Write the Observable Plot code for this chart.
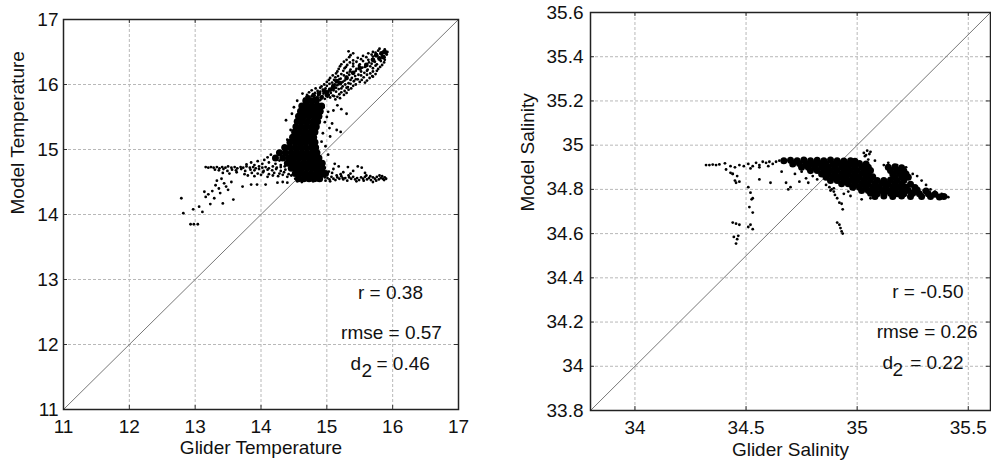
<!DOCTYPE html>
<html>
<head>
<meta charset="utf-8">
<script src="https://cdn.jsdelivr.net/npm/d3@7"></script>
<script src="https://cdn.jsdelivr.net/npm/@observablehq/plot@0.6"></script>
<style>
  html, body { margin: 0; padding: 0; background: #fff; }
  #wrap { position: relative; width: 991px; height: 461px; overflow: hidden; }
  #left { position: absolute; left: 0; top: 0; }
  #right { position: absolute; left: 495px; top: 0; }
</style>
</head>
<body>
<div id="wrap"><div id="left"></div><div id="right"></div></div>
<script>
// ---------- Temperature panel ----------
const tempDomain = [11, 17];
const tempTicks = [11, 12, 13, 14, 15, 16, 17];
const tempStats = ["r = 0.38", "rmse = 0.57", "d", "2", "= 0.46"];

const tempTail = [[12.79,14.25],[12.82,14.02],[12.93,13.85],[12.98,13.85],[13.04,13.85],[12.97,14.08],[13.06,14.12],[13.11,14.04],[13.14,14.35],[13.16,14.27],[13.23,14.16],[13.29,14.25],[13.42,14.17],[13.58,14.23],[13.31,14.45],[13.36,14.40],[13.44,14.48],[13.50,14.38],[13.72,14.43],[13.85,14.46],[13.94,14.46],[14.07,14.46],[14.25,14.49],[14.33,14.50],[14.40,14.49],[13.20,14.31],[13.26,14.36],[13.38,14.33],[13.47,14.43],[13.33,14.52],[13.40,14.55],[13.55,14.50]];

const tempBandUpper = [[13.16,14.73],[13.20,14.72],[13.24,14.73],[13.28,14.72],[13.33,14.73],[13.37,14.71],[13.41,14.73],[13.46,14.72],[13.50,14.74],[13.55,14.72],[13.60,14.73],[13.64,14.71],[13.69,14.73],[13.73,14.72],[13.78,14.74],[13.83,14.72],[13.88,14.73],[13.92,14.71],[13.97,14.74],[14.02,14.72],[14.07,14.73],[14.12,14.71],[14.18,14.74],[14.24,14.72],[14.30,14.73],
[13.30,14.69],[13.36,14.68],[13.43,14.70],[13.49,14.67],[13.56,14.69],[13.62,14.68],[13.70,14.70],[13.76,14.67],[13.84,14.69],[13.90,14.68],[13.97,14.70],[14.04,14.67],[14.10,14.69],[14.17,14.68],[14.23,14.70],[14.30,14.67],[14.37,14.69],
[13.42,14.64],[13.52,14.63],[13.63,14.65],[13.75,14.62],[13.86,14.64],[13.95,14.63],[14.03,14.65],[14.12,14.62],[14.20,14.64],[14.28,14.63],[14.35,14.65],[14.42,14.62],
[13.80,14.60],[13.90,14.59],[14.00,14.61],[14.10,14.58],[14.18,14.60],[14.26,14.59],[14.33,14.61],[14.40,14.58],[14.46,14.60],
[13.85,14.80],[13.95,14.82],[14.05,14.84],[14.12,14.80],[14.20,14.86],[14.28,14.83],[14.22,14.78],[14.02,14.78],[13.78,14.77],[13.90,14.76],[14.15,14.92],[14.10,14.88],[14.30,14.76],[14.36,14.74]];

const tempBandLower = [[14.52,14.55],[14.56,14.58],[14.60,14.53],[14.63,14.57],[14.67,14.55],[14.70,14.59],[14.73,14.52],[14.77,14.56],[14.80,14.54],[14.83,14.58],[14.86,14.53],[14.89,14.57],[14.92,14.55],[14.95,14.59],[14.98,14.52],[15.01,14.56],[15.04,14.54],[15.07,14.58],[15.10,14.55],[15.13,14.53],[15.16,14.57],[15.19,14.55],[15.22,14.59],[15.25,14.54],[15.28,14.56],[15.31,14.52],[15.34,14.57],[15.37,14.55],[15.40,14.58],[15.43,14.54],[15.46,14.56],[15.49,14.53],[15.52,14.57],[15.55,14.55],[15.58,14.58],[15.61,14.54],[15.64,14.56],[15.67,14.53],[15.70,14.57],[15.73,14.55],[15.76,14.58],[15.79,14.54],[15.82,14.56],[15.85,14.55],[15.88,14.57],[15.90,14.55],
[14.55,14.51],[14.62,14.50],[14.71,14.56],[14.79,14.51],[14.88,14.55],[14.97,14.57],[15.05,14.51],[15.15,14.60],[15.24,14.56],[15.33,14.60],[15.45,14.51],[15.56,14.52],[15.66,14.59],[15.75,14.52],[15.84,14.59],[15.87,14.53],[15.80,14.60],[15.70,14.50],[15.60,14.60],
[14.90,14.68],[14.97,14.72],[15.03,14.66],[15.10,14.70],[15.18,14.74],[15.25,14.65],[15.32,14.73],[15.40,14.67],[15.47,14.74],[15.53,14.72],[14.95,14.63],[15.08,14.64],[15.21,14.62],[15.36,14.63],[15.12,14.78],[14.85,14.75],[15.58,14.64]];

const tempArm = [[14.66,15.78],[14.74,15.77],[14.81,15.79],[14.90,15.76],[14.97,15.78],[15.05,15.80],[15.13,15.77],[15.20,15.79],
[14.69,15.81],[14.77,15.82],[14.85,15.80],[14.93,15.82],[15.01,15.81],[15.09,15.83],[15.16,15.81],
[14.70,15.84],[14.79,15.85],[14.87,15.83],[14.95,15.86],[15.03,15.84],[15.11,15.82],[15.19,15.85],[15.26,15.84],
[14.73,15.88],[14.82,15.87],[14.90,15.89],[14.98,15.88],[15.06,15.87],[15.14,15.89],[15.22,15.88],[15.30,15.87],
[14.77,15.91],[14.86,15.90],[14.94,15.92],[15.02,15.89],[15.10,15.91],[15.18,15.93],[15.27,15.90],[15.33,15.92],
[14.83,15.94],[14.90,15.95],[14.98,15.94],[15.06,15.93],[15.14,15.95],[15.22,15.94],[15.30,15.95],[15.37,15.94],
[14.92,15.97],[15.00,15.98],[15.08,15.96],[15.16,15.99],[15.24,15.97],[15.32,15.96],[15.40,15.98],
[14.96,16.00],[15.04,16.01],[15.12,16.00],[15.20,16.01],[15.28,16.00],[15.36,16.01],[15.44,16.00],
[15.00,16.04],[15.08,16.03],[15.16,16.05],[15.24,16.04],[15.33,16.02],[15.41,16.05],[15.50,16.04],[15.58,16.03],
[15.03,16.07],[15.11,16.07],[15.19,16.08],[15.27,16.06],[15.36,16.07],[15.44,16.08],[15.53,16.07],[15.61,16.06],
[15.05,16.10],[15.13,16.11],[15.21,16.09],[15.30,16.12],[15.38,16.10],[15.47,16.08],[15.56,16.11],[15.65,16.10],[15.70,16.12],
[15.09,16.14],[15.17,16.13],[15.26,16.14],[15.34,16.15],[15.43,16.13],[15.52,16.14],[15.61,16.15],[15.69,16.13],
[15.14,16.17],[15.22,16.16],[15.31,16.18],[15.40,16.17],[15.48,16.15],[15.57,16.18],[15.66,16.17],[15.74,16.16],
[15.16,16.20],[15.25,16.21],[15.35,16.20],[15.44,16.21],[15.52,16.20],[15.61,16.21],[15.70,16.20],[15.76,16.21],
[15.18,16.24],[15.27,16.25],[15.36,16.23],[15.45,16.24],[15.54,16.26],[15.62,16.23],[15.70,16.25],[15.78,16.24],
[15.20,16.28],[15.29,16.27],[15.40,16.28],[15.49,16.29],[15.58,16.27],[15.66,16.28],[15.74,16.29],[15.81,16.27],
[15.22,16.31],[15.31,16.30],[15.40,16.32],[15.50,16.31],[15.59,16.29],[15.68,16.32],[15.76,16.31],[15.84,16.30],
[15.26,16.35],[15.35,16.34],[15.45,16.35],[15.55,16.36],[15.64,16.34],[15.73,16.35],[15.82,16.36],[15.87,16.34],
[15.30,16.38],[15.40,16.37],[15.52,16.39],[15.63,16.38],[15.71,16.36],[15.80,16.39],[15.88,16.38],
[15.34,16.42],[15.47,16.41],[15.60,16.42],[15.70,16.43],[15.79,16.41],[15.87,16.42],
[15.36,16.45],[15.55,16.44],[15.68,16.46],[15.76,16.45],[15.84,16.44],[15.91,16.46],
[15.40,16.48],[15.63,16.48],[15.74,16.49],[15.82,16.47],[15.90,16.48],
[15.33,16.51],[15.70,16.50],[15.78,16.52],[15.86,16.51],[15.92,16.50],[15.80,16.55],[15.88,16.54],
[15.00,15.50],[15.08,15.40],[15.15,15.30],[15.21,15.27],[15.05,15.20],[15.30,15.55],[15.22,15.62],[14.98,15.05],[15.02,14.92],[14.63,15.86],[14.45,15.30],[14.40,15.15],[14.38,15.45],
[14.95,15.65],[15.02,15.58],[14.97,15.42],[15.04,15.33],[14.94,15.25],[15.10,15.60],[15.16,15.68],[14.92,15.12],[14.47,15.55],[14.50,15.65],[14.55,15.75]];

const tempCore = [[14.68,15.75],[14.76,15.75],[14.84,15.75],
[14.62,15.67],[14.70,15.67],[14.78,15.67],[14.86,15.67],[14.92,15.67],
[14.60,15.59],[14.67,15.59],[14.75,15.59],[14.83,15.59],[14.90,15.59],
[14.57,15.51],[14.65,15.51],[14.73,15.51],[14.81,15.51],[14.88,15.51],
[14.55,15.43],[14.63,15.43],[14.71,15.43],[14.79,15.43],[14.86,15.43],
[14.53,15.35],[14.61,15.35],[14.69,15.35],[14.77,15.35],[14.84,15.35],
[14.51,15.27],[14.59,15.27],[14.67,15.27],[14.75,15.27],[14.82,15.27],
[14.48,15.19],[14.56,15.19],[14.64,15.19],[14.72,15.19],[14.80,15.19],
[14.44,15.11],[14.52,15.11],[14.60,15.11],[14.68,15.11],[14.76,15.11],[14.82,15.11],
[14.36,15.03],[14.44,15.03],[14.52,15.03],[14.60,15.03],[14.68,15.03],[14.76,15.03],[14.83,15.03],
[14.28,14.95],[14.37,14.95],[14.46,14.95],[14.54,14.95],[14.62,14.95],[14.70,14.95],[14.78,14.95],[14.85,14.95],
[14.22,14.87],[14.33,14.87],[14.42,14.87],[14.50,14.87],[14.58,14.87],[14.66,14.87],[14.74,14.87],[14.82,14.87],[14.88,14.87],
[14.40,14.79],[14.48,14.79],[14.56,14.79],[14.64,14.79],[14.72,14.79],[14.80,14.79],[14.88,14.79],[14.93,14.79],
[14.46,14.71],[14.54,14.71],[14.62,14.71],[14.70,14.71],[14.78,14.71],[14.86,14.71],[14.93,14.71],
[14.52,14.63],[14.60,14.63],[14.68,14.63],[14.76,14.63],[14.84,14.63],[14.92,14.63],[14.98,14.63],
[14.57,14.55],[14.65,14.55],[14.73,14.55],[14.81,14.55],[14.89,14.55]];

const tempArmCore = [[15.75,16.45],[15.83,16.48],[15.88,16.50],[15.80,16.40],[15.86,16.42],[15.70,16.38],[15.60,16.30],[15.50,16.25],[15.40,16.18],[15.30,16.10],[15.20,16.02],[15.10,15.95],[15.00,15.88],[14.92,15.80],
[14.72,15.80],[14.80,15.83],[14.88,15.86],[14.96,15.90],[15.05,15.92],[14.85,15.78],[15.00,15.84],[15.10,15.98],[15.15,16.05]];

// ---------- Salinity panel ----------
const salDomain = [33.8, 35.6];
const salXTicks = [34, 34.5, 35, 35.5];
const salYTicks = [33.8, 34, 34.2, 34.4, 34.6, 34.8, 35, 35.2, 35.4, 35.6];
const salStats = ["r = -0.50", "rmse = 0.26", "d", "2", "= 0.22"];

const salScatter = [[34.32,34.910],[34.335,34.910],[34.35,34.912],[34.365,34.910],[34.38,34.913],[34.405,34.918],
[34.43,34.905],[34.45,34.90],[34.47,34.91],[34.49,34.905],[34.51,34.915],[34.53,34.905],[34.545,34.92],[34.56,34.91],[34.575,34.925],[34.59,34.92],[34.605,34.925],[34.62,34.915],[34.635,34.925],[34.65,34.93],[34.67,34.925],[34.68,34.93],[34.52,34.895],[34.56,34.90],[34.60,34.905],
[34.41,34.89],[34.43,34.875],[34.44,34.87],[34.46,34.86],[34.56,34.845],[34.61,34.83],[34.68,34.83],[34.69,34.80],[34.70,34.81],[34.74,34.835],[34.77,34.85],[34.78,34.83],[34.80,34.86],[34.82,34.845],[34.72,34.87],[34.66,34.88],[34.75,34.88],[34.79,34.875],
[34.44,34.87],[34.45,34.84],[34.455,34.83],[34.47,34.835],[34.44,34.65],[34.455,34.645],[34.47,34.64],[34.445,34.585],[34.46,34.575],[34.455,34.555],[34.465,34.59],
[34.51,34.81],[34.52,34.785],[34.525,34.755],[34.53,34.76],[34.515,34.72],[34.53,34.695],[34.51,34.63],[34.53,34.62],[34.52,34.64],
[34.86,34.82],[34.875,34.81],[34.885,34.80],[34.895,34.79],[34.90,34.775],[34.91,34.76],[34.92,34.74],[34.93,34.735],[34.935,34.71],[34.91,34.65],[34.92,34.64],[34.925,34.625],[34.93,34.61],[34.935,34.60],[34.88,34.795],[34.895,34.805],[34.94,34.78],[34.96,34.79],[34.97,34.77],[34.985,34.80],
[35.25,34.87],[35.27,34.86],[35.29,34.84],[35.31,34.82],[35.33,34.80],[35.35,34.79],[35.38,34.78],[35.40,34.77],[35.41,34.765],[35.22,34.90],[35.18,34.91],[35.12,34.91],[35.14,34.92],[35.05,34.935],[35.08,34.93],[35.02,34.755],[35.06,34.76],[35.30,34.795],
[35.03,34.965],[35.045,34.975],[35.06,34.97],[35.04,34.955],[35.055,34.96],[35.035,34.95]];

const salCore = [[34.67,34.93],[34.70,34.932],[34.73,34.93],[34.76,34.933],[34.79,34.93],[34.82,34.932],[34.85,34.93],[34.88,34.933],[34.91,34.93],[34.94,34.928],[34.97,34.93],[34.99,34.927],
[34.71,34.915],[34.74,34.917],[34.77,34.915],[34.80,34.915],[34.83,34.917],[34.86,34.915],[34.89,34.915],[34.92,34.917],[34.95,34.915],[34.98,34.915],[35.01,34.917],[35.04,34.915],
[34.75,34.90],[34.78,34.90],[34.81,34.902],[34.84,34.90],[34.87,34.90],[34.90,34.902],[34.93,34.90],[34.96,34.90],[34.99,34.90],[35.02,34.902],[35.05,34.90],[35.14,34.90],[35.17,34.902],[35.20,34.898],
[34.79,34.885],[34.82,34.885],[34.85,34.887],[34.88,34.885],[34.91,34.885],[34.94,34.887],[34.97,34.885],[35.00,34.885],[35.03,34.887],[35.06,34.885],[35.15,34.885],[35.18,34.887],[35.21,34.883],
[34.84,34.87],[34.87,34.87],[34.90,34.872],[34.93,34.87],[34.96,34.87],[34.99,34.87],[35.02,34.872],[35.05,34.87],[35.16,34.87],[35.19,34.872],[35.22,34.87],
[34.86,34.855],[34.89,34.857],[34.92,34.855],[34.95,34.855],[34.98,34.857],[35.01,34.855],[35.04,34.855],[35.07,34.857],[35.17,34.855],[35.20,34.857],[35.23,34.855],
[34.88,34.84],[34.91,34.84],[34.94,34.842],[34.97,34.84],[35.00,34.84],[35.03,34.84],[35.06,34.842],[35.09,34.84],[35.12,34.84],[35.15,34.842],[35.18,34.84],[35.21,34.84],
[34.93,34.825],[34.96,34.825],[34.99,34.827],[35.02,34.825],[35.05,34.825],[35.08,34.825],[35.11,34.827],[35.14,34.825],[35.17,34.825],[35.20,34.825],[35.24,34.823],
[34.98,34.81],[35.01,34.81],[35.04,34.812],[35.07,34.81],[35.10,34.81],[35.13,34.81],[35.16,34.812],[35.19,34.81],[35.22,34.81],[35.26,34.808],
[35.02,34.795],[35.05,34.795],[35.08,34.797],[35.11,34.795],[35.14,34.795],[35.17,34.797],[35.20,34.795],[35.23,34.795],[35.27,34.797],[35.31,34.793],
[35.06,34.782],[35.09,34.78],[35.12,34.78],[35.15,34.782],[35.18,34.78],[35.21,34.78],[35.25,34.782],[35.28,34.78],[35.32,34.78],[35.35,34.778],
[35.08,34.768],[35.12,34.77],[35.16,34.768],[35.20,34.77],[35.24,34.768],[35.29,34.768],[35.33,34.768],[35.37,34.766],[35.39,34.768]];

// ---------- shared styling ----------
const FONT = "'Liberation Sans', Arial, Helvetica, sans-serif";
const gridStyle = {stroke: "#b8b8b8", strokeOpacity: 1, strokeDasharray: "3,2", strokeWidth: 1};
const tickStroke = "#333";

function panel({domain, xTicks, yTicks, width, mL, mR, mT, mB, groups, cores, coreR, armCore,
                xLabel, yLabel, yLabelDx, xLabelDy, yPad, stats, statPos}) {
  const frameW = width - mL - mR;
  const frameH = 461 - mT - mB;
  const marks = [
    Plot.gridX(xTicks, gridStyle),
    Plot.gridY(yTicks, gridStyle),
    Plot.link([domain], {x1: d => d[0], y1: d => d[0], x2: d => d[1], y2: d => d[1], stroke: "#777", strokeWidth: 1}),
    ...cores.map(c => Plot.dot(c, {x: d => d[0], y: d => d[1], r: coreR, fill: "#000", stroke: null})),
    ...(armCore ? [Plot.dot(armCore, {x: d => d[0], y: d => d[1], r: 2.4, fill: "#000", stroke: null})] : []),
    ...groups.map(g => Plot.dot(g, {x: d => d[0], y: d => d[1], r: 1.4, fill: "#000", stroke: null})),
    // inward ticks on all four sides
    Plot.tickX(xTicks, {x: d => d, insetTop: frameH - 4, stroke: tickStroke}),
    Plot.tickX(xTicks, {x: d => d, insetBottom: frameH - 4, stroke: tickStroke}),
    Plot.tickY(yTicks, {y: d => d, insetRight: frameW - 4, stroke: tickStroke}),
    Plot.tickY(yTicks, {y: d => d, insetLeft: frameW - 4, stroke: tickStroke}),
    Plot.axisX(xTicks, {tickSize: 0, tickPadding: 9.5, label: null, tickFormat: d => String(d), fill: "#111"}),
    Plot.axisY(yTicks, {tickSize: 0, tickPadding: yPad, label: null, tickFormat: d => String(d), fill: "#111"}),
    Plot.frame({stroke: "#222", strokeWidth: 1.5}),
    Plot.text([xLabel], {frameAnchor: "bottom", lineAnchor: "bottom", dy: xLabelDy, fill: "#111"}),
    Plot.text([yLabel], {frameAnchor: "left", rotate: -90, dx: yLabelDx, fill: "#111"}),
    // statistics annotations
    ...stats.map((s, i) => Plot.text([s], {frameAnchor: "top-left", lineAnchor: "bottom", textAnchor: statPos[i].a, dx: statPos[i].dx, dy: statPos[i].dy, fill: "#111"}))
  ];
  return Plot.plot({
    width, height: 461,
    marginLeft: mL, marginRight: mR, marginTop: mT, marginBottom: mB,
    style: {fontFamily: FONT, fontSize: "19px", background: "#fff", color: "#111", overflow: "visible"},
    x: {domain, axis: null},
    y: {domain, axis: null},
    marks
  });
}

document.getElementById("left").appendChild(panel({
  domain: tempDomain, xTicks: tempTicks, yTicks: tempTicks,
  width: 495, mL: 63, mR: 37, mT: 19, mB: 52,
  groups: [tempTail, tempBandUpper, tempBandLower, tempArm],
  cores: [tempCore], coreR: 3.5, armCore: tempArmCore,
  xLabel: "Glider Temperature", yLabel: "Model Temperature",
  yLabelDx: -46, xLabelDy: 44, yPad: 5,
  stats: tempStats,
  statPos: [
    {a: "middle", dx: 327, dy: 279},
    {a: "middle", dx: 328, dy: 319},
    {a: "start", dx: 287, dy: 350},
    {a: "start", dx: 298, dy: 357},
    {a: "start", dx: 313, dy: 350}
  ]
}));

document.getElementById("right").appendChild(panel({
  domain: salDomain, xTicks: salXTicks, yTicks: salYTicks,
  width: 496, mL: 95, mR: 1, mT: 12, mB: 51,
  groups: [salScatter],
  cores: [salCore], coreR: 3.5, armCore: null,
  xLabel: "Glider Salinity", yLabel: "Model Salinity",
  yLabelDx: -63, xLabelDy: 45, yPad: 7,
  stats: salStats,
  statPos: [
    {a: "end", dx: 373, dy: 285},
    {a: "end", dx: 387, dy: 325},
    {a: "start", dx: 292, dy: 356},
    {a: "start", dx: 302, dy: 363},
    {a: "end", dx: 373, dy: 356}
  ]
}));
</script>
</body>
</html>
